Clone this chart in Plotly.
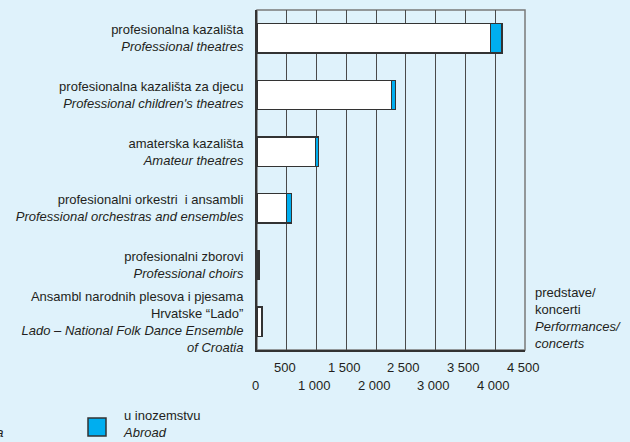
import plotly.graph_objects as go

# categories (Croatian / English)
labels_hr = [
    "profesionalna kazališta",
    "profesionalna kazališta za djecu",
    "amaterska kazališta",
    "profesionalni orkestri  i ansambli",
    "profesionalni zborovi",
    "Ansambl narodnih plesova i pjesama<br>Hrvatske “Lado”",
]
labels_en = [
    "Professional theatres",
    "Professional children's theatres",
    "Amateur theatres",
    "Professional orchestras and ensembles",
    "Professional choirs",
    "Lado – National Folk Dance Ensemble<br>of Croatia",
]

# performances / concerts
in_croatia = [3920, 2265, 985, 500, 20, 85]
abroad = [195, 60, 50, 85, 12, 4]

upper_ticks = [500, 1500, 2500, 3500, 4500]
lower_ticks = [0, 1000, 2000, 3000, 4000]

BG = "#dff2fb"
BLUE = "#00aeef"
EDGE = "#333333"
FONT = "Liberation Sans"

# plot area in pixels
L, R, T, B = 257, 525, 10, 350


def px(x):
    return (x - L) / (R - L)


def py(y):
    return (B - y) / (B - T)


def fmt(v):
    return f"{v:,}".replace(",", " ")


idx = list(range(len(labels_hr)))
ticktext = []
for hr, en in zip(labels_hr, labels_en):
    en_lines = "<br>".join(f"<i>{s}</i>" for s in en.split("<br>"))
    ticktext.append(f"{hr}<br>{en_lines}")

fig = go.Figure()
fig.add_trace(go.Bar(
    y=idx, x=in_croatia, orientation="h", width=0.52,
    marker=dict(color="white", line=dict(color=EDGE, width=1.2)),
    name="u Hrvatskoj", hoverinfo="x",
))
fig.add_trace(go.Bar(
    y=idx, x=abroad, orientation="h", width=0.52,
    marker=dict(color=BLUE, line=dict(color=EDGE, width=1.2)),
    name="u inozemstvu", hoverinfo="x",
))

fig.update_layout(
    width=630, height=442,
    barmode="stack",
    showlegend=False,
    paper_bgcolor=BG, plot_bgcolor=BG,
    margin=dict(l=L, r=630 - R, t=T, b=442 - B),
    font=dict(family=FONT, size=13, color="#231f20"),
    xaxis=dict(
        range=[0, 4500], dtick=500, showgrid=True, gridcolor="#4a4a4a",
        gridwidth=1, showticklabels=False, ticks="", zeroline=False,
        showline=True, linecolor=EDGE, linewidth=2,
    ),
    yaxis=dict(
        range=[5.5, -0.5], tickvals=idx, ticktext=ticktext, ticks="",
        showgrid=False, zeroline=False, showline=True, linecolor=EDGE,
        linewidth=2, ticklabelstandoff=9,
    ),
)

# light frame on top and right
fig.add_shape(type="rect", xref="paper", yref="paper", x0=0, x1=1, y0=0, y1=1,
              line=dict(color="#7a7a7a", width=1.5), layer="between")

# staggered tick labels
for v in upper_ticks:
    fig.add_annotation(x=v, xref="x", y=0, yref="paper", yshift=-17, xshift=-2,
                       text=fmt(v), showarrow=False, yanchor="middle")
for v in lower_ticks:
    fig.add_annotation(x=v, xref="x", y=0, yref="paper", yshift=-35, xshift=-2,
                       text=fmt(v), showarrow=False, yanchor="middle")

# unit label
fig.add_annotation(x=1, xref="paper", xshift=8, y=py(318), yref="paper",
                   xanchor="left", yanchor="middle", align="left", showarrow=False,
                   text="predstave/<br>koncerti<br><i>Performances/</i><br><i>concerts</i>")

# legend
fig.add_shape(type="rect", xref="paper", yref="paper",
              x0=px(88), x1=px(106), y0=py(436), y1=py(418),
              fillcolor=BLUE, line=dict(color=EDGE, width=1.5))
fig.add_annotation(x=px(121), xref="paper", y=py(424), yref="paper",
                   xanchor="left", yanchor="middle", align="left", showarrow=False,
                   text="u inozemstvu<br><i>Abroad</i>")
fig.add_annotation(x=px(5), xref="paper", y=py(432), yref="paper",
                   xanchor="right", yanchor="middle", showarrow=False,
                   text="<i>In Croatia</i>")

fig.write_html("out.html", config={"displayModeBar": False},
               post_script="document.body.style.margin='0';")
